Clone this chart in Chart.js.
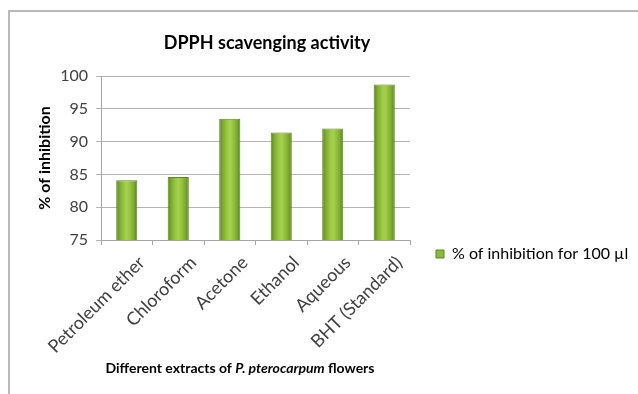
<!DOCTYPE html>
<html>
<head>
<meta charset="utf-8">
<script src="https://cdn.jsdelivr.net/npm/chart.js@4.4.1/dist/chart.umd.min.js"></script>
<style>
  html, body { margin: 0; padding: 0; background: #ffffff; overflow: hidden; }
  #wrap { position: relative; width: 638px; height: 394px; }
  #frame { position: absolute; left: 8px; top: 10px; width: 700px; height: 500px; border: 2px solid #b9b9b9; box-sizing: border-box; }
  #c { position: absolute; left: 0; top: 0; }
</style>
</head>
<body>
<div id="wrap">
  <div id="frame"></div>
  <canvas id="c" width="638" height="394"></canvas>
</div>
<script>
// ---- data ----
const categories = ['Petroleum ether', 'Chloroform', 'Acetone', 'Ethanol', 'Aqueous', 'BHT (Standard)'];
const inhibitionValues = [84.1, 84.6, 93.5, 91.4, 92.0, 98.7];
const yTicks = [75, 80, 85, 90, 95, 100];
const seriesName = '% of inhibition for 100 \u00b5l';
const chartTitle = 'DPPH scavenging activity';
const yTitle = '% of inhibition';
const xTitleParts = [
  { text: 'Different extracts of ', italic: false },
  { text: 'P. pterocarpum', italic: true },
  { text: ' flowers', italic: false }
];

const FONT = 'Lato, "Open Sans", sans-serif';
const BAR_PCT = 0.5, CAT_PCT = 0.82;

function barFill(ctx) {
  const chart = ctx.chart;
  const xs = chart.scales && chart.scales.x;
  if (!xs || ctx.dataIndex === undefined || !isFinite(xs.width)) return '#8cbc3c';
  const cx = xs.getPixelForValue(ctx.dataIndex);
  const w = xs.width / categories.length * BAR_PCT * CAT_PCT;
  const g = chart.ctx.createLinearGradient(cx - w / 2, 0, cx + w / 2, 0);
  g.addColorStop(0, '#5a821e');
  g.addColorStop(0.18, '#80ad31');
  g.addColorStop(0.45, '#a3d04b');
  g.addColorStop(0.55, '#a3d04b');
  g.addColorStop(0.82, '#80ad31');
  g.addColorStop(1, '#5a821e');
  return g;
}

const placePlugin = {
  id: 'place',
  afterLayout(chart) {
    // centre the title on the Excel chart frame and place the legend at its right
    const t = chart.titleBlock;
    if (t) { t.left = 8; t.right = 526; }
    const lg = chart.legend;
    if (lg) {
      const h = lg.bottom - lg.top;
      lg.left = 426; lg.right = 638;
      lg.top = 254 - 8 - 10; lg.bottom = lg.top + Math.max(h, 30);
    }
  },
  afterDraw(chart) {
    // x axis title with italic species name
    const c = chart.ctx;
    c.save();
    c.fillStyle = '#000000';
    c.textBaseline = 'middle';
    const size = 14;
    let total = 0;
    const widths = xTitleParts.map(p => {
      c.font = (p.italic ? 'italic ' : '') + 'bold ' + size + 'px ' + FONT;
      const w = c.measureText(p.text).width; total += w; return w;
    });
    let x = 240 - total / 2;
    xTitleParts.forEach((p, i) => {
      c.font = (p.italic ? 'italic ' : '') + 'bold ' + size + 'px ' + FONT;
      c.textAlign = 'left';
      c.fillText(p.text, x, 368);
      x += widths[i];
    });
    c.restore();
  }
};

new Chart(document.getElementById('c'), {
  type: 'bar',
  data: {
    labels: categories,
    datasets: [{
      label: seriesName,
      data: inhibitionValues,
      backgroundColor: barFill,
      borderColor: '#5f8524',
      borderWidth: { left: 1, right: 1, top: 1, bottom: 0 },
      borderSkipped: 'bottom',
      barPercentage: BAR_PCT,
      categoryPercentage: CAT_PCT
    }]
  },
  options: {
    responsive: false,
    animation: false,
    devicePixelRatio: 1,
    layout: { padding: { left: 0, right: 228, top: 0, bottom: 0 } },
    plugins: {
      title: {
        display: true,
        text: chartTitle,
        color: '#000000',
        font: { family: FONT, size: 18, weight: 'bold' },
        padding: { top: 32, bottom: 76 - 32 - 18 * 1.2 }
      },
      legend: {
        display: true,
        position: 'chartArea',
        align: 'start',
        labels: {
          color: '#404040',
          font: { family: FONT, size: 16 },
          boxWidth: 8,
          boxHeight: 8,
          padding: 10,
          generateLabels: (chart) => [{
            text: seriesName,
            fillStyle: '#8cbc3c',
            strokeStyle: '#5f8524',
            lineWidth: 1,
            hidden: false,
            datasetIndex: 0
          }]
        }
      },
      tooltip: { enabled: false }
    },
    scales: {
      x: {
        offset: true,
        grid: { display: true, drawOnChartArea: false, drawTicks: true, tickLength: 5, offset: true, color: '#a6a6a6' },
        border: { display: true, color: '#a6a6a6' },
        ticks: {
          color: '#404040',
          font: { family: FONT, size: 18 },
          minRotation: 45,
          maxRotation: 45,
          autoSkip: false,
          padding: 7,
          labelOffset: 15
        },
        afterFit(scale) { scale.height = 394 - 240; }
      },
      y: {
        min: yTicks[0],
        max: yTicks[yTicks.length - 1],
        afterBuildTicks(scale) { scale.ticks = yTicks.map(v => ({ value: v })); },
        grid: { color: '#b4b4b4', tickLength: 5, drawTicks: true },
        border: { display: true, color: '#a6a6a6' },
        ticks: {
          color: '#404040',
          font: { family: FONT, size: 16 },
          padding: 8
        },
        title: {
          display: true,
          text: yTitle,
          color: '#000000',
          font: { family: FONT, size: 16, weight: 'bold' },
          padding: { top: 35, bottom: 0 }
        },
        afterFit(scale) { scale.width = 101; }
      }
    }
  },
  plugins: [placePlugin]
});
</script>
</body>
</html>
